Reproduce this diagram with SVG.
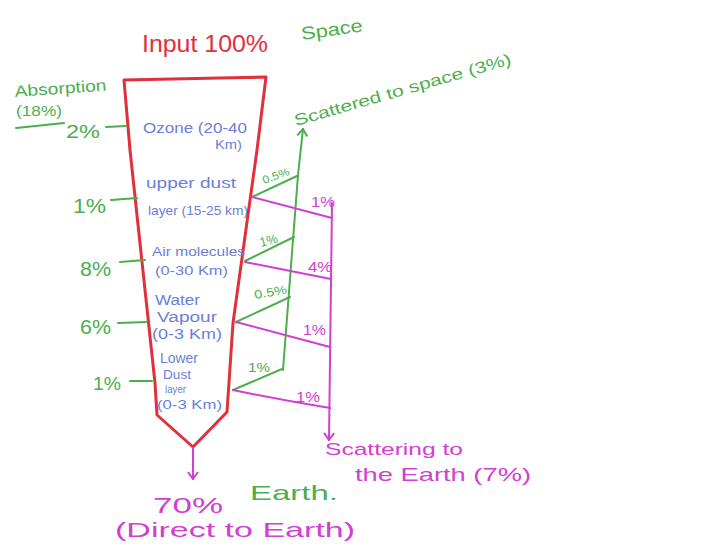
<svg xmlns="http://www.w3.org/2000/svg" width="707" height="549" viewBox="0 0 707 549">
<defs>
<style>
text{font-family:"Liberation Sans","DejaVu Sans",sans-serif}
.r{fill:#e0303c}.g{fill:#4cae4c}.b{fill:#6a80d8}.m{fill:#d23ed2}
.ls{fill:none;stroke-width:2;stroke-linecap:round;stroke-linejoin:round}
.gl{stroke:#4cae4c}.ml{stroke:#d23ed2}
</style>
<marker id="ah-m" viewBox="0 0 12 12" refX="11" refY="6" markerWidth="12" markerHeight="12" markerUnits="userSpaceOnUse" orient="auto">
<path d="M4,1 L11,6 L4,11" fill="none" stroke="#d23ed2" stroke-width="2"/>
</marker>
<marker id="ah-g" viewBox="0 0 12 12" refX="11" refY="6" markerWidth="12" markerHeight="12" markerUnits="userSpaceOnUse" orient="auto">
<path d="M4,1 L11,6 L4,11" fill="none" stroke="#4cae4c" stroke-width="2"/>
</marker>
</defs>
<rect width="707" height="549" fill="#ffffff"/>

<g id="title">
<text class="r" x="142" y="52" font-size="23" textLength="126" lengthAdjust="spacingAndGlyphs">Input 100%</text>
</g>
<g id="space"><text class="g" x="302" y="40" font-size="18" textLength="62" lengthAdjust="spacingAndGlyphs" transform="rotate(-8 302 40)">Space</text></g>

<g id="funnel">
<path d="M124,80 L266,77 L257,150 L233,323 L227,412 L193,447 L157,415 L155,383 L130,150 Z" fill="none" stroke="#e0303c" stroke-width="3" stroke-linejoin="round"/>
</g>

<g id="absorption">
<text class="g" x="15" y="97" font-size="16" textLength="92" lengthAdjust="spacingAndGlyphs" transform="rotate(-4 15 97)">Absorption</text>
<text class="g" x="16" y="116" font-size="15" textLength="46" lengthAdjust="spacingAndGlyphs">(18%)</text>
<path class="ls gl" d="M16,128 L64,123"/>
</g>

<g id="ozone">
<text class="g" x="66" y="138" font-size="19" textLength="34" lengthAdjust="spacingAndGlyphs">2%</text>
<path class="ls gl" d="M106,127 L126,126"/>
<text class="b" x="143" y="133" font-size="14" textLength="104" lengthAdjust="spacingAndGlyphs">Ozone (20-40</text>
<text class="b" x="215" y="149" font-size="12" textLength="27" lengthAdjust="spacingAndGlyphs">Km)</text>
</g>

<g id="upper-dust">
<text class="g" x="73" y="213" font-size="20" textLength="33" lengthAdjust="spacingAndGlyphs">1%</text>
<path class="ls gl" d="M111,200 L137,198"/>
<text class="b" x="146" y="188" font-size="14" textLength="90" lengthAdjust="spacingAndGlyphs">upper dust</text>
<text class="b" x="148" y="215" font-size="13" textLength="100" lengthAdjust="spacingAndGlyphs">layer (15-25 km)</text>
</g>

<g id="air">
<text class="g" x="80" y="276" font-size="20" textLength="31" lengthAdjust="spacingAndGlyphs">8%</text>
<path class="ls gl" d="M120,262 L145,260"/>
<text class="b" x="152" y="256" font-size="13" textLength="93" lengthAdjust="spacingAndGlyphs">Air molecules</text>
<text class="b" x="155" y="275" font-size="13" textLength="73" lengthAdjust="spacingAndGlyphs">(0-30 Km)</text>
</g>

<g id="water">
<text class="g" x="80" y="334" font-size="20" textLength="31" lengthAdjust="spacingAndGlyphs">6%</text>
<path class="ls gl" d="M118,323 L147,322"/>
<text class="b" x="155" y="305" font-size="14" textLength="45" lengthAdjust="spacingAndGlyphs">Water</text>
<text class="b" x="157" y="322" font-size="14" textLength="60" lengthAdjust="spacingAndGlyphs">Vapour</text>
<text class="b" x="152" y="339" font-size="14" textLength="70" lengthAdjust="spacingAndGlyphs">(0-3 Km)</text>
</g>

<g id="lower-dust">
<text class="g" x="93" y="390" font-size="19" textLength="28" lengthAdjust="spacingAndGlyphs">1%</text>
<path class="ls gl" d="M130,381 L152,381"/>
<text class="b" x="160" y="363" font-size="14" textLength="38" lengthAdjust="spacingAndGlyphs">Lower</text>
<text class="b" x="163" y="379" font-size="13" textLength="28" lengthAdjust="spacingAndGlyphs">Dust</text>
<text class="b" x="165" y="393" font-size="10" textLength="21" lengthAdjust="spacingAndGlyphs">layer</text>
<text class="b" x="157" y="409" font-size="13" textLength="65" lengthAdjust="spacingAndGlyphs">(0-3 Km)</text>
</g>

<g id="connectors">
<path class="ls gl" d="M283,370 L298,175 L303,129" marker-end="url(#ah-g)"/>
<path class="ls gl" d="M252,197 L297,176"/>
<path class="ls gl" d="M245,261 L294,237"/>
<path class="ls gl" d="M236,322 L290,297"/>
<path class="ls gl" d="M233,390 L282,369"/>
<path class="ls ml" d="M252,197 L332,218"/>
<path class="ls ml" d="M245,262 L331,279"/>
<path class="ls ml" d="M236,322 L330,347"/>
<path class="ls ml" d="M233,390 Q280,400 330,408"/>
<path class="ls ml" d="M332,203 L329,440" marker-end="url(#ah-m)"/>
<path class="ls ml" d="M193,448 L193,479" marker-end="url(#ah-m)"/>
</g>

<g id="scatter-labels">
<text class="g" x="264" y="184" font-size="11" textLength="28" lengthAdjust="spacingAndGlyphs" transform="rotate(-20 264 184)">0.5%</text>
<text class="g" x="261" y="247" font-size="13" textLength="18" lengthAdjust="spacingAndGlyphs" transform="rotate(-15 261 247)">1%</text>
<text class="g" x="255" y="299" font-size="12" textLength="33" lengthAdjust="spacingAndGlyphs" transform="rotate(-10 255 299)">0.5%</text>
<text class="g" x="248" y="372" font-size="13" textLength="22" lengthAdjust="spacingAndGlyphs">1%</text>
<text class="m" x="311" y="207" font-size="14" textLength="24" lengthAdjust="spacingAndGlyphs">1%</text>
<text class="m" x="308" y="272" font-size="15" textLength="24" lengthAdjust="spacingAndGlyphs">4%</text>
<text class="m" x="303" y="335" font-size="15" textLength="23" lengthAdjust="spacingAndGlyphs">1%</text>
<text class="m" x="296" y="402" font-size="15" textLength="24" lengthAdjust="spacingAndGlyphs">1%</text>
</g>

<g id="scattered-space">
<text class="g" x="296" y="126" font-size="16" textLength="225" lengthAdjust="spacingAndGlyphs" transform="rotate(-16 296 126)">Scattered to space (3%)</text>
</g>

<g id="scatter-earth">
<text class="m" x="325" y="455" font-size="17" textLength="138" lengthAdjust="spacingAndGlyphs">Scattering to</text>
<text class="m" x="355" y="481" font-size="19" textLength="176" lengthAdjust="spacingAndGlyphs">the Earth (7%)</text>
</g>

<g id="earth">
<text class="m" x="153" y="513" font-size="22" textLength="70" lengthAdjust="spacingAndGlyphs">70%</text>
<text class="g" x="250" y="500" font-size="21" textLength="88" lengthAdjust="spacingAndGlyphs">Earth.</text>
<text class="m" x="115" y="537" font-size="21" textLength="240" lengthAdjust="spacingAndGlyphs">(Direct to Earth)</text>
</g>
</svg>
